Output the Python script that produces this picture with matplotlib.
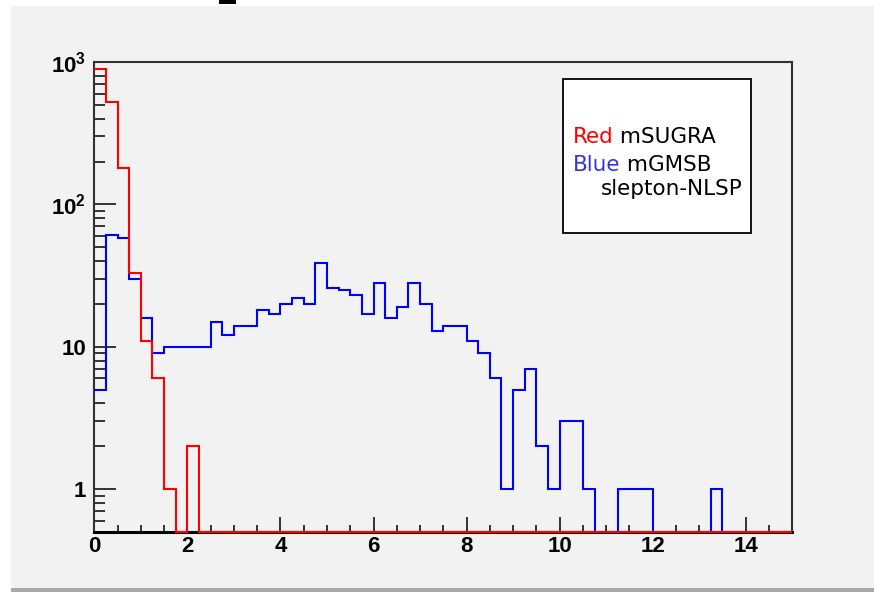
import numpy as np
import matplotlib
matplotlib.use('Agg')
import matplotlib.pyplot as plt
from matplotlib.patches import Rectangle
from matplotlib.ticker import FixedLocator, MultipleLocator, NullFormatter

# 60 bins of 0.25 from 0 to 15
bin_edges = np.linspace(0, 15, 61)

# counts (log scale)
red_counts = [900, 520, 180, 33, 11, 6, 1, 0, 2] + [0] * 51
blue_counts = [5, 61, 58, 30, 16, 9, 10, 10, 10, 10,
               15, 12, 14, 14, 18, 17, 20, 22, 20, 39,
               26, 25, 23, 17, 28, 16, 19, 28, 20, 13,
               14, 14, 11, 9, 6, 1, 5, 7, 2, 1,
               3, 3, 1, 0, 0, 1, 1, 1, 0, 0,
               0, 0, 0, 1, 0, 0, 0, 0, 0, 0]

x_ticks = [0, 2, 4, 6, 8, 10, 12, 14]
y_ticks = [1, 10, 100, 1000]
y_labels = ['1', '10', r'$10^{2}$', r'$10^{3}$']

legend_lines = [('Red', ' mSUGRA'), ('Blue', ' mGMSB')]
legend_extra = 'slepton-NLSP'

ymin, ymax = 0.5, 1000
bg = '#f2f2f2'
frame_col = '#333333'

plt.rcParams['mathtext.fontset'] = 'custom'
plt.rcParams['mathtext.rm'] = 'Liberation Sans:bold'
plt.rcParams['mathtext.it'] = 'Liberation Sans:bold'
plt.rcParams['mathtext.bf'] = 'Liberation Sans:bold'

W, H = 874, 592
fig = plt.figure(figsize=(W / 100, H / 100), dpi=100, facecolor='white')

# ROOT-like canvas with a shadow at the bottom
fig.patches.append(Rectangle((11 / W, 4 / H), 1 - 11 / W, (588 - 6) / H,
                             transform=fig.transFigure, facecolor=bg,
                             edgecolor='none', zorder=-2))
fig.patches.append(Rectangle((11 / W, 0), 1 - 11 / W, 4 / H,
                             transform=fig.transFigure, facecolor='#a9a9a9',
                             edgecolor='none', zorder=-2))
# bit of a cut-off title at the top
fig.patches.append(Rectangle((219 / W, 1 - 4 / H), 17 / W, 4 / H,
                             transform=fig.transFigure, facecolor='black',
                             edgecolor='none', zorder=-1))

ax = fig.add_axes([94.3 / W, (592 - 532) / H, 698 / W, 470 / H])
ax.set_facecolor(bg)

# zero bins are drawn on the bottom of the frame, like ROOT does
blue_plot = np.where(np.array(blue_counts) > 0, blue_counts, ymin)
red_plot = np.where(np.array(red_counts) > 0, red_counts, ymin)
ax.stairs(blue_plot, bin_edges, baseline=None, color='#0000ff', lw=1.5,
          zorder=3, clip_on=False)
ax.stairs(red_plot, bin_edges, baseline=None, color='#ff0000', lw=1.5,
          zorder=3.1, clip_on=False)

ax.set_yscale('log')
ax.set_xlim(0, 15)
ax.set_ylim(ymin, ymax)

ax.xaxis.set_major_locator(FixedLocator(x_ticks))
ax.xaxis.set_minor_locator(MultipleLocator(0.5))
ax.set_xticklabels([str(t) for t in x_ticks])
ax.yaxis.set_major_locator(FixedLocator(y_ticks))
minor_y = [m * 10 ** e for e in range(-1, 3) for m in range(2, 10)]
minor_y = [v for v in minor_y if ymin <= v <= ymax]
ax.yaxis.set_minor_locator(FixedLocator(minor_y))
ax.yaxis.set_minor_formatter(NullFormatter())
ax.set_yticklabels(y_labels)

for lab in ax.get_xticklabels() + ax.get_yticklabels():
    lab.set_fontfamily('Liberation Sans')
    lab.set_fontweight('bold')
    lab.set_fontsize(16)

ax.tick_params(axis='x', which='major', direction='in', length=10.8,
               width=1.4, color=frame_col, pad=3)
ax.tick_params(axis='x', which='minor', direction='in', length=5.3,
               width=1.4, color=frame_col)
ax.tick_params(axis='y', which='major', direction='in', length=15.8,
               width=1.4, color=frame_col, pad=6)
ax.tick_params(axis='y', which='minor', direction='in', length=7.9,
               width=1.4, color=frame_col)

for side in ['top', 'right', 'left']:
    ax.spines[side].set_color(frame_col)
    ax.spines[side].set_linewidth(1.5)
ax.spines['bottom'].set_color('black')
ax.spines['bottom'].set_linewidth(2.2)

# legend box, drawn as plain text in a white frame
fig.patches.append(Rectangle((562.7 / W, 1 - 233.3 / H), (751 - 562.7) / W,
                             (233.3 - 79.3) / H, transform=fig.transFigure,
                             facecolor='white', edgecolor='black', lw=1.3,
                             zorder=5))
colors = ['#ff0000', '#3333dd']
ys = [136.7, 165]
renderer = fig.canvas.get_renderer()
for (word, rest), col, yy in zip(legend_lines, colors, ys):
    t = fig.text(572.7 / W, 1 - yy / H, word, color=col, fontsize=15.5,
                 family='DejaVu Sans', va='center', ha='left', zorder=6)
    bb = t.get_window_extent(renderer)
    fig.text(bb.x1 / W, 1 - yy / H, rest, color='black', fontsize=15.5,
             family='DejaVu Sans', va='center', ha='left', zorder=6)
fig.text(601 / W, 1 - 189 / H, legend_extra, color='black', fontsize=15.5,
         family='DejaVu Sans', va='center', ha='left', zorder=6)

fig.savefig('out.png', dpi=100, facecolor='white')
